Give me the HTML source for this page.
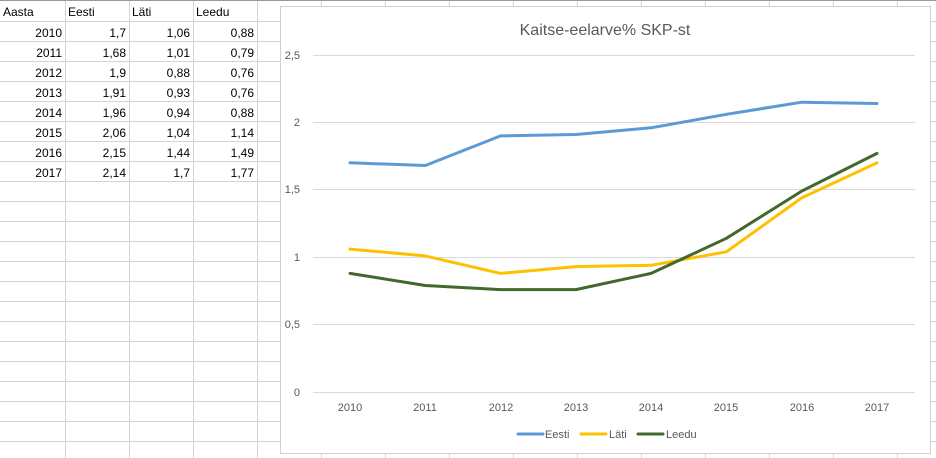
<!DOCTYPE html>
<html><head><meta charset="utf-8"><style>
body{margin:0;width:936px;height:458px;overflow:hidden;background:#fff;font-family:"Liberation Sans",sans-serif}
</style></head><body>
<svg width="936" height="458" xmlns="http://www.w3.org/2000/svg" style="position:absolute;left:0;top:0">
<g stroke="#d4d4d4" stroke-width="1">
<path d="M65.5 0V458M129.5 0V458M193.5 0V458M257.5 0V458M321.5 0V458M385.5 0V458M449.5 0V458M513.5 0V458M577.5 0V458M641.5 0V458M705.5 0V458M769.5 0V458M833.5 0V458M897.5 0V458"/>
<path d="M0 21.5H936M0 41.5H936M0 61.5H936M0 81.5H936M0 101.5H936M0 121.5H936M0 141.5H936M0 161.5H936M0 181.5H936M0 201.5H936M0 221.5H936M0 241.5H936M0 261.5H936M0 281.5H936M0 301.5H936M0 321.5H936M0 341.5H936M0 361.5H936M0 381.5H936M0 401.5H936M0 421.5H936M0 441.5H936"/>
</g>
<path d="M0 0.5H936" stroke="#9a9a9a"/>
<g font-size="12" fill="#000">
<text x="3" y="16">Aasta</text><text x="68" y="16">Eesti</text><text x="132" y="16">Läti</text><text x="196" y="16">Leedu</text>
<g text-anchor="end">
<text x="62" y="37">2010</text><text x="126" y="37">1,7</text><text x="190" y="37">1,06</text><text x="254" y="37">0,88</text>
<text x="62" y="57">2011</text><text x="126" y="57">1,68</text><text x="190" y="57">1,01</text><text x="254" y="57">0,79</text>
<text x="62" y="77">2012</text><text x="126" y="77">1,9</text><text x="190" y="77">0,88</text><text x="254" y="77">0,76</text>
<text x="62" y="97">2013</text><text x="126" y="97">1,91</text><text x="190" y="97">0,93</text><text x="254" y="97">0,76</text>
<text x="62" y="117">2014</text><text x="126" y="117">1,96</text><text x="190" y="117">0,94</text><text x="254" y="117">0,88</text>
<text x="62" y="137">2015</text><text x="126" y="137">2,06</text><text x="190" y="137">1,04</text><text x="254" y="137">1,14</text>
<text x="62" y="157">2016</text><text x="126" y="157">2,15</text><text x="190" y="157">1,44</text><text x="254" y="157">1,49</text>
<text x="62" y="177">2017</text><text x="126" y="177">2,14</text><text x="190" y="177">1,7</text><text x="254" y="177">1,77</text>
</g></g>
<rect x="280.5" y="6.5" width="650" height="447" fill="#fff" stroke="#d0d0d0"/>
<text x="605" y="35" font-size="16" fill="#595959" text-anchor="middle">Kaitse-eelarve% SKP-st</text>
<g stroke="#d9d9d9" stroke-width="1">
<path d="M313 55.5H915M313 122.5H915M313 257.5H915M313 324.5H915M313 189.5H915M313 392.5H915"/>
</g>
<g font-size="11" fill="#595959" text-anchor="end">
<text x="300" y="59">2,5</text><text x="300" y="126">2</text><text x="300" y="193">1,5</text><text x="300" y="261">1</text><text x="300" y="328">0,5</text><text x="300" y="396">0</text>
</g>
<g font-size="11" fill="#595959" text-anchor="middle">
<text x="350" y="411">2010</text><text x="425" y="411">2011</text><text x="501" y="411">2012</text><text x="576" y="411">2013</text><text x="651" y="411">2014</text><text x="726" y="411">2015</text><text x="802" y="411">2016</text><text x="877" y="411">2017</text>
</g>
<g fill="none" stroke-width="3" stroke-linejoin="round" stroke-linecap="round">
<polyline stroke="#5b9bd5" points="350,162.8 425.3,165.5 500.6,135.9 575.9,134.5 651.1,127.8 726.4,114.3 801.7,102.2 877,103.5"/>
<polyline stroke="#ffc000" points="350,249.1 425.3,255.9 500.6,273.4 575.9,266.6 651.1,265.3 726.4,251.8 801.7,197.9 877,162.8"/>
<polyline stroke="#43682b" points="350,273.4 425.3,285.5 500.6,289.6 575.9,289.6 651.1,273.4 726.4,238.3 801.7,191.1 877,153.4"/>
</g>
<g stroke-width="3" stroke-linecap="round">
<path d="M518 434H543" stroke="#5b9bd5"/><path d="M581 434H606" stroke="#ffc000"/><path d="M638 434H663" stroke="#43682b"/>
</g>
<g font-size="11" fill="#595959">
<text x="545" y="438">Eesti</text><text x="609" y="438">Läti</text><text x="666" y="438">Leedu</text>
</g>
</svg>
</body></html>
